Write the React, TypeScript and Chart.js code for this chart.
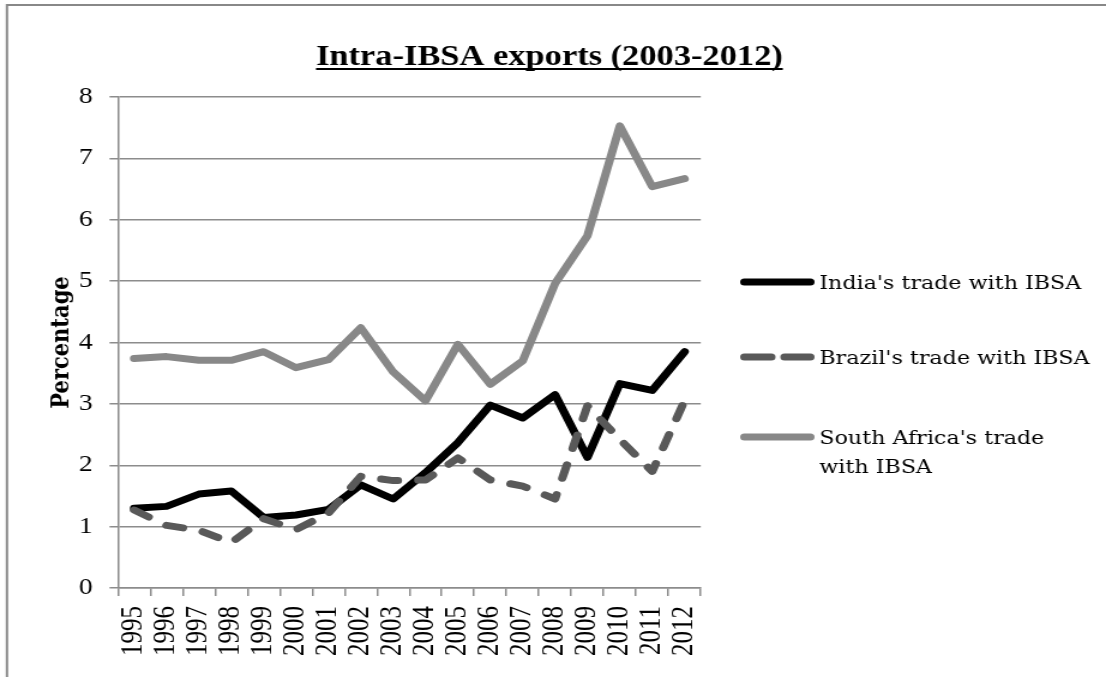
import React, { useEffect, useRef } from "react";
import { Chart, registerables } from "chart.js";
Chart.register(...registerables);

const years = ["1995", "1996", "1997", "1998", "1999", "2000", "2001", "2002", "2003", "2004", "2005", "2006", "2007", "2008", "2009", "2010", "2011", "2012"];
const india = [1.3, 1.33, 1.53, 1.58, 1.15, 1.19, 1.28, 1.68, 1.45, 1.88, 2.37, 2.98, 2.77, 3.15, 2.13, 3.33, 3.22, 3.85];
const brazil = [1.27, 1.02, 0.94, 0.74, 1.13, 0.95, 1.22, 1.82, 1.75, 1.76, 2.12, 1.76, 1.66, 1.45, 2.97, 2.42, 1.9, 3.05];
const southAfrica = [3.74, 3.77, 3.71, 3.71, 3.85, 3.59, 3.72, 4.24, 3.52, 3.05, 3.97, 3.32, 3.7, 4.96, 5.74, 7.53, 6.54, 6.67];
const titleText = "Intra-IBSA exports (2003-2012)";
const yTitle = "Percentage";
const legendLines = [["India's trade with IBSA"], ["Brazil's trade with IBSA"], ["South Africa's trade", "with IBSA"]];

const W = 922;
const H = 677;
const DISPLAY_W = 1106;

const decor = {
  id: "decor",
  afterDraw(chart: any) {
    const ctx = chart.ctx as CanvasRenderingContext2D;
    const area = chart.chartArea;
    ctx.save();
    // outer frame (top and left)
    ctx.strokeStyle = "#888888";
    ctx.lineWidth = 2;
    ctx.beginPath();
    ctx.moveTo(5.8, H);
    ctx.lineTo(5.8, 5);
    ctx.lineTo(W, 5);
    ctx.stroke();

    // title with underline (slightly condensed)
    ctx.save();
    const tx = W / 2 - 3;
    const ty = 65;
    ctx.translate(tx, ty);
    ctx.scale(0.957, 1);
    ctx.fillStyle = "#000";
    ctx.font = 'bold 30px "Liberation Serif", "Times New Roman", serif';
    ctx.textAlign = "center";
    ctx.textBaseline = "alphabetic";
    ctx.fillText(titleText, 0, 0);
    const tw = ctx.measureText(titleText).width;
    ctx.fillRect(-tw / 2, 3, tw, 2);
    ctx.restore();

    // y axis title
    ctx.save();
    ctx.translate(51.7, (area.top + area.bottom) / 2);
    ctx.rotate(-Math.PI / 2);
    ctx.font = 'bold 21px "DejaVu Serif", serif';
    ctx.fillStyle = "#000";
    ctx.textAlign = "center";
    ctx.textBaseline = "middle";
    ctx.fillText(yTitle, 0, 0);
    ctx.restore();

    // legend
    const ys = [282, 357, 437];
    const x0 = 617;
    const x1 = 679;
    ctx.lineCap = "round";
    ctx.lineWidth = 7;
    ctx.strokeStyle = "#000000";
    ctx.beginPath();
    ctx.moveTo(x0 + 3.5, ys[0]);
    ctx.lineTo(x1 - 3.5, ys[0]);
    ctx.stroke();
    ctx.strokeStyle = "#595959";
    ctx.beginPath();
    ctx.moveTo(x0 + 3.5, ys[1]);
    ctx.lineTo(643, ys[1]);
    ctx.moveTo(654, ys[1]);
    ctx.lineTo(x1 - 3.5, ys[1]);
    ctx.stroke();
    ctx.strokeStyle = "#888888";
    ctx.beginPath();
    ctx.moveTo(x0 + 3.5, ys[2]);
    ctx.lineTo(x1 - 3.5, ys[2]);
    ctx.stroke();

    ctx.fillStyle = "#000";
    ctx.font = '18.5px "DejaVu Serif", serif';
    ctx.textAlign = "left";
    ctx.textBaseline = "middle";
    legendLines.forEach((lines, i) => {
      lines.forEach((t, j) => {
        ctx.fillText(t, 683, ys[i] + 2 + j * 29);
      });
    });
    ctx.restore();
  },
};

export default function App() {
  const ref = useRef<HTMLCanvasElement | null>(null);
  useEffect(() => {
    document.body.style.margin = "0";
    const canvas = ref.current!;
    const chart = new Chart(canvas, {
      type: "line",
      data: {
        labels: years,
        datasets: [
          {
            label: "India's trade with IBSA",
            data: india,
            borderColor: "#000000",
            backgroundColor: "#000000",
            borderWidth: 7,
            pointRadius: 0,
            borderJoinStyle: "round",
            borderCapStyle: "round",
            order: 1,
          },
          {
            label: "Brazil's trade with IBSA",
            data: brazil,
            borderColor: "#595959",
            backgroundColor: "#595959",
            borderWidth: 7,
            pointRadius: 0,
            borderDash: [14, 17],
            borderJoinStyle: "round",
            borderCapStyle: "round",
            order: 0,
          },
          {
            label: "South Africa's trade with IBSA",
            data: southAfrica,
            borderColor: "#888888",
            backgroundColor: "#888888",
            borderWidth: 7,
            pointRadius: 0,
            borderJoinStyle: "round",
            borderCapStyle: "round",
            order: 2,
          },
        ],
      },
      options: {
        responsive: false,
        animation: false,
        devicePixelRatio: 1,
        layout: { padding: { left: 0, right: W - 584.2, top: 97, bottom: 0 } },
        plugins: { legend: { display: false }, title: { display: false }, tooltip: { enabled: false } },
        scales: {
          x: {
            type: "category",
            offset: true,
            grid: { display: true, drawOnChartArea: false, offset: true, drawTicks: true, tickLength: 8, color: "#8c8c8c", lineWidth: 1.5 },
            border: { display: true, color: "#8c8c8c", width: 1.5 },
            ticks: {
              autoSkip: false,
              maxRotation: 90,
              minRotation: 90,
              padding: 10,
              color: "#000",
              font: { family: '"Liberation Serif", "Times New Roman", serif', size: 25 },
            },
            afterFit: (s: any) => {
              s.height = 89;
            },
          },
          y: {
            min: 0,
            max: 8,
            ticks: {
              stepSize: 1,
              padding: 14,
              color: "#000",
              font: { family: '"Liberation Serif", "Times New Roman", serif', size: 23 },
            },
            grid: { color: "#8c8c8c", lineWidth: 1.5, drawTicks: true, tickLength: 7 },
            border: { display: true, color: "#8c8c8c", width: 1.5 },
            afterFit: (s: any) => {
              s.width = 98.3;
            },
          },
        },
      },
      plugins: [decor],
    });
    return () => chart.destroy();
  }, []);
  return (
    <div style={{ width: DISPLAY_W, height: H, position: "relative", overflow: "hidden", background: "#fff" }}>
      <canvas ref={ref} width={W} height={H} style={{ width: DISPLAY_W + "px", height: H + "px", display: "block" }} />
    </div>
  );
}
